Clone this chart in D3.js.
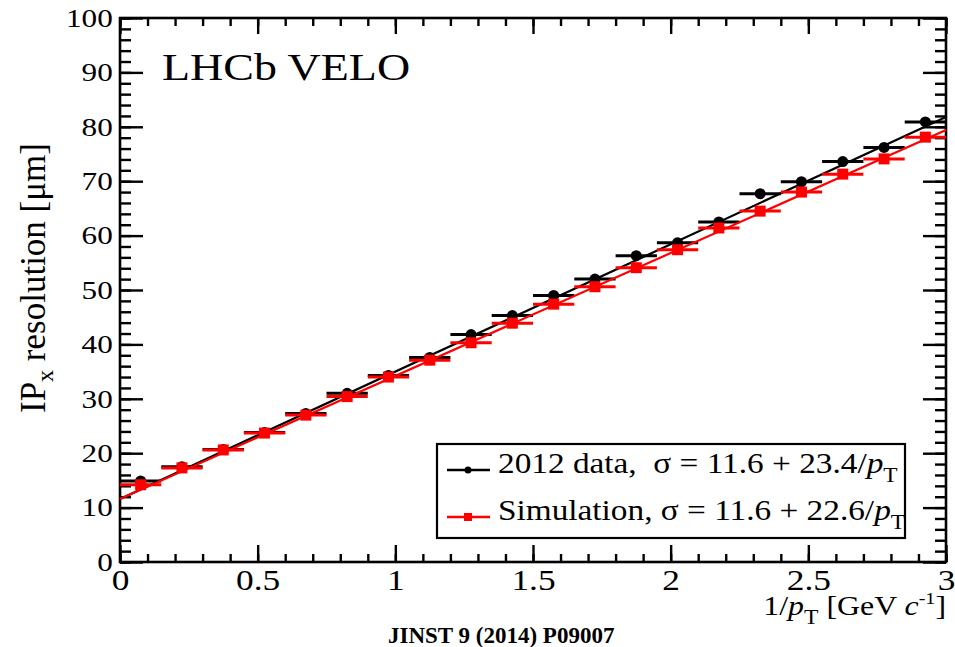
<!DOCTYPE html>
<html>
<head>
<meta charset="utf-8">
<script src="https://cdn.jsdelivr.net/npm/d3@7"></script>
<style>
  html, body { margin: 0; padding: 0; background: #fff; }
  svg { display: block; }
  text { font-family: "Liberation Serif", "Times New Roman", serif; fill: #000; }
</style>
</head>
<body>
<svg id="chart" width="955" height="647"></svg>
<script>
// Bin centres in 1/pT [GeV/c]^-1 (bins of width 0.15)
const binCentres = [0.075, 0.225, 0.375, 0.525, 0.675, 0.825, 0.975, 1.125, 1.275, 1.425,
                    1.575, 1.725, 1.875, 2.025, 2.175, 2.325, 2.475, 2.625, 2.775, 2.925];
const binHalfWidth = 0.075;

// IPx resolution [um], 2012 data
const dataValues = [14.9, 17.5, 20.7, 23.8, 27.3, 31.0, 34.3, 37.6, 41.8, 45.3,
                    49.0, 52.0, 56.3, 58.7, 62.5, 67.7, 69.9, 73.6, 76.2, 80.9];
// IPx resolution [um], simulation
const simValues  = [14.2, 17.3, 20.6, 23.7, 27.0, 30.4, 34.0, 37.1, 40.3, 43.9,
                    47.4, 50.6, 54.1, 57.4, 61.4, 64.5, 68.0, 71.3, 74.1, 78.1];

// Linear fits sigma = a + b / pT
const dataFit = { a: 11.6, b: 23.4 };
const simFit  = { a: 11.6, b: 22.6 };

const xMajorTicks = [0, 0.5, 1, 1.5, 2, 2.5, 3];
const xTickLabels = ["0", "0.5", "1", "1.5", "2", "2.5", "3"];
const yMajorTicks = [0, 10, 20, 30, 40, 50, 60, 70, 80, 90, 100];

const svg = d3.select("#chart");
const L = 120, R = 946, T = 18, B = 562;

const x = d3.scaleLinear().domain([0, 3]).range([L, R]);
const y = d3.scaleLinear().domain([0, 100]).range([B, T]);

const xMinor = d3.range(0, 3.0001, 0.1).map(v => +v.toFixed(2));
const yMinor = d3.range(0, 100.001, 2);

// ---- axes (ticks drawn inward on all four sides) ----
function styleAxis(g) {
  g.select(".domain").remove();
  g.selectAll("line").attr("stroke", "#000").attr("stroke-width", 2.4);
}

// left
svg.append("g").attr("transform", `translate(${L},0)`)
  .call(d3.axisLeft(y).tickValues(yMinor).tickSize(-11).tickFormat(""))
  .call(styleAxis);
const yAx = svg.append("g").attr("transform", `translate(${L},0)`)
  .call(d3.axisLeft(y).tickValues(yMajorTicks).tickSize(-23).tickPadding(6).tickFormat(d3.format("d")))
  .call(styleAxis);
yAx.selectAll("text").attr("font-size", 26).attr("font-family", "Liberation Serif")
  .attr("transform", "scale(1.2,1)");
// right
svg.append("g").attr("transform", `translate(${R},0)`)
  .call(d3.axisRight(y).tickValues(yMinor).tickSize(-11).tickFormat(""))
  .call(styleAxis);
svg.append("g").attr("transform", `translate(${R},0)`)
  .call(d3.axisRight(y).tickValues(yMajorTicks).tickSize(-23).tickFormat(""))
  .call(styleAxis);
// bottom
svg.append("g").attr("transform", `translate(0,${B})`)
  .call(d3.axisBottom(x).tickValues(xMinor).tickSize(-8).tickFormat(""))
  .call(styleAxis);
const xAx = svg.append("g").attr("transform", `translate(0,${B})`)
  .call(d3.axisBottom(x).tickValues(xMajorTicks).tickSize(-17).tickPadding(7)
        .tickFormat((d, i) => xTickLabels[i]))
  .call(styleAxis);
xAx.selectAll("text").attr("font-size", 29).attr("font-family", "Liberation Serif")
  .attr("transform", "scale(1.22,1)");
// top
svg.append("g").attr("transform", `translate(0,${T})`)
  .call(d3.axisTop(x).tickValues(xMinor).tickSize(-8).tickFormat(""))
  .call(styleAxis);
svg.append("g").attr("transform", `translate(0,${T})`)
  .call(d3.axisTop(x).tickValues(xMajorTicks).tickSize(-16).tickFormat(""))
  .call(styleAxis);

// frame
svg.append("rect").attr("x", L).attr("y", T).attr("width", R - L).attr("height", B - T)
  .attr("fill", "none").attr("stroke", "#000").attr("stroke-width", 2.6);

// ---- series ----
const plot = svg.append("g");

function drawFit(fit, color) {
  const line = d3.line().x(d => x(d)).y(d => y(fit.a + fit.b * d));
  plot.append("path").datum([0, 3]).attr("d", line)
    .attr("fill", "none").attr("stroke", color).attr("stroke-width", 2.2);
}

function drawSeries(values, color, shape) {
  const g = plot.append("g");
  g.selectAll("line.xerr").data(values).join("line")
    .attr("x1", (d, i) => x(binCentres[i] - binHalfWidth))
    .attr("x2", (d, i) => x(binCentres[i] + binHalfWidth))
    .attr("y1", d => y(d)).attr("y2", d => y(d))
    .attr("stroke", color).attr("stroke-width", 3);
  if (shape === "circle") {
    g.selectAll("circle").data(values).join("circle")
      .attr("cx", (d, i) => x(binCentres[i])).attr("cy", d => y(d))
      .attr("r", 5.5).attr("fill", color);
  } else {
    g.selectAll("rect").data(values).join("rect")
      .attr("x", (d, i) => x(binCentres[i]) - 5.5).attr("y", d => y(d) - 5.5)
      .attr("width", 11).attr("height", 11).attr("fill", color);
  }
}

drawFit(dataFit, "#000");
drawSeries(dataValues, "#000", "circle");
drawFit(simFit, "#ff0000");
drawSeries(simValues, "#ff0000", "square");

// ---- labels ----
function stretched(parent, px, py, sx, size) {
  return parent.append("text")
    .attr("transform", `translate(${px},${py}) scale(${sx},1)`)
    .attr("font-size", size);
}

stretched(svg, 162, 80, 1.21, 38).text("LHCb VELO");

// y title
const yTitle = svg.append("text")
  .attr("transform", "translate(45,413) rotate(-90)")
  .attr("font-size", 35);
yTitle.append("tspan").text("IP");
yTitle.append("tspan").attr("font-size", 24).attr("dy", 8).text("x");
yTitle.append("tspan").attr("dy", -8).text(" resolution [\u03bcm]");

// x title
const xTitle = stretched(svg, 946, 615, 1.18, 27).attr("text-anchor", "end");
xTitle.append("tspan").text("1/");
xTitle.append("tspan").attr("font-style", "italic").text("p");
xTitle.append("tspan").attr("font-size", 20).attr("dy", 9).text("T");
xTitle.append("tspan").attr("dy", -9).text(" [GeV ");
xTitle.append("tspan").attr("font-style", "italic").text("c");
xTitle.append("tspan").attr("font-size", 17).attr("dy", -11).text("-1");
xTitle.append("tspan").attr("dy", 11).text("]");

// legend
const leg = svg.append("g");
leg.append("rect").attr("x", 437).attr("y", 444).attr("width", 468).attr("height", 94)
  .attr("fill", "#fff").attr("stroke", "#000").attr("stroke-width", 2.2);

const legendRows = [
  { color: "#000", shape: "circle", label: "2012 data,  ", fit: dataFit, ly: 470, by: 473 },
  { color: "#ff0000", shape: "square", label: "Simulation, ", fit: simFit, ly: 517, by: 520 }
];
legendRows.forEach(r => {
  leg.append("line").attr("x1", 447).attr("x2", 490).attr("y1", r.ly).attr("y2", r.ly)
    .attr("stroke", r.color).attr("stroke-width", 2.5);
  if (r.shape === "circle") {
    leg.append("circle").attr("cx", 468).attr("cy", r.ly).attr("r", 3.5).attr("fill", r.color);
  } else {
    leg.append("rect").attr("x", 464).attr("y", r.ly - 4).attr("width", 8).attr("height", 8)
      .attr("fill", r.color);
  }
  const t = stretched(leg, 498, r.by, 1.11, 30).attr("xml:space", "preserve");
  t.append("tspan").text(`${r.label}\u03c3 = ${r.fit.a} + ${r.fit.b}/`);
  t.append("tspan").attr("font-style", "italic").text("p");
  t.append("tspan").attr("font-size", 21).attr("dy", 9).text("T");
});

// citation
svg.append("text").attr("x", 388).attr("y", 643).attr("font-size", 23)
  .attr("font-weight", "bold").text("JINST 9 (2014) P09007");
</script>
</body>
</html>
